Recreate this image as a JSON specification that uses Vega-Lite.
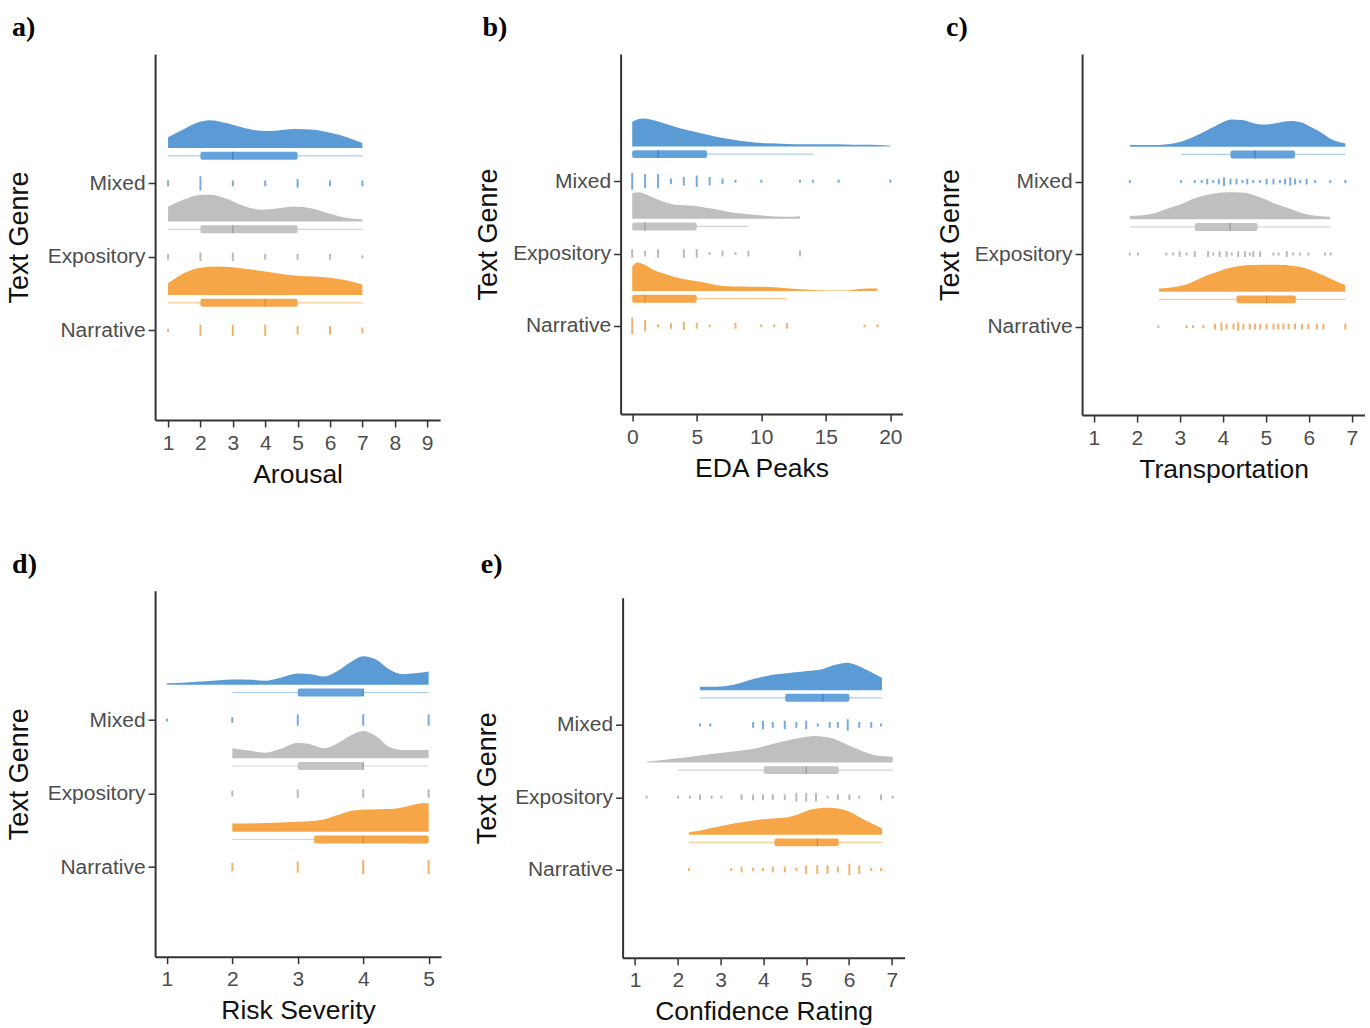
{
"$schema":"https://vega.github.io/schema/vega-lite/v6.json",
"padding":{"left":4.1,"top":14,"right":0,"bottom":0},
"datasets":{
"dens":[
{"p":"a","g":"Mixed","x":1.0,"d":0.37},{"p":"a","g":"Mixed","x":1.5,"d":0.65},{"p":"a","g":"Mixed","x":2.0,"d":0.9},{"p":"a","g":"Mixed","x":2.3,"d":0.95},{"p":"a","g":"Mixed","x":2.8,"d":0.85},{"p":"a","g":"Mixed","x":3.3,"d":0.7},{"p":"a","g":"Mixed","x":3.7,"d":0.61},{"p":"a","g":"Mixed","x":4.2,"d":0.58},{"p":"a","g":"Mixed","x":4.6,"d":0.62},{"p":"a","g":"Mixed","x":4.9,"d":0.65},{"p":"a","g":"Mixed","x":5.5,"d":0.62},{"p":"a","g":"Mixed","x":6.0,"d":0.52},{"p":"a","g":"Mixed","x":6.5,"d":0.38},{"p":"a","g":"Mixed","x":7.0,"d":0.17},
{"p":"a","g":"Expository","x":1.0,"d":0.51},{"p":"a","g":"Expository","x":1.5,"d":0.75},{"p":"a","g":"Expository","x":2.0,"d":0.9},{"p":"a","g":"Expository","x":2.3,"d":0.91},{"p":"a","g":"Expository","x":2.8,"d":0.78},{"p":"a","g":"Expository","x":3.3,"d":0.55},{"p":"a","g":"Expository","x":3.9,"d":0.4},{"p":"a","g":"Expository","x":4.4,"d":0.45},{"p":"a","g":"Expository","x":4.9,"d":0.51},{"p":"a","g":"Expository","x":5.4,"d":0.45},{"p":"a","g":"Expository","x":6.0,"d":0.27},{"p":"a","g":"Expository","x":6.5,"d":0.13},{"p":"a","g":"Expository","x":7.0,"d":0.07},
{"p":"a","g":"Narrative","x":1.0,"d":0.4},{"p":"a","g":"Narrative","x":1.5,"d":0.75},{"p":"a","g":"Narrative","x":2.0,"d":0.93},{"p":"a","g":"Narrative","x":2.5,"d":0.97},{"p":"a","g":"Narrative","x":3.0,"d":0.95},{"p":"a","g":"Narrative","x":3.5,"d":0.88},{"p":"a","g":"Narrative","x":4.0,"d":0.8},{"p":"a","g":"Narrative","x":4.5,"d":0.72},{"p":"a","g":"Narrative","x":5.0,"d":0.66},{"p":"a","g":"Narrative","x":5.5,"d":0.63},{"p":"a","g":"Narrative","x":6.0,"d":0.59},{"p":"a","g":"Narrative","x":6.5,"d":0.5},{"p":"a","g":"Narrative","x":7.0,"d":0.36},
{"p":"b","g":"Mixed","x":0,"d":0.86},{"p":"b","g":"Mixed","x":0.8,"d":0.97},{"p":"b","g":"Mixed","x":1.5,"d":0.93},{"p":"b","g":"Mixed","x":2.5,"d":0.8},{"p":"b","g":"Mixed","x":3.5,"d":0.66},{"p":"b","g":"Mixed","x":4.5,"d":0.55},{"p":"b","g":"Mixed","x":5.5,"d":0.44},{"p":"b","g":"Mixed","x":6.5,"d":0.34},{"p":"b","g":"Mixed","x":7.5,"d":0.26},{"p":"b","g":"Mixed","x":8.5,"d":0.19},{"p":"b","g":"Mixed","x":9.5,"d":0.14},{"p":"b","g":"Mixed","x":10.5,"d":0.11},{"p":"b","g":"Mixed","x":12,"d":0.09},{"p":"b","g":"Mixed","x":13.5,"d":0.08},{"p":"b","g":"Mixed","x":15,"d":0.08},{"p":"b","g":"Mixed","x":16.5,"d":0.07},{"p":"b","g":"Mixed","x":18,"d":0.06},{"p":"b","g":"Mixed","x":19,"d":0.05},{"p":"b","g":"Mixed","x":20,"d":0.03},
{"p":"b","g":"Expository","x":0,"d":0.89},{"p":"b","g":"Expository","x":0.5,"d":0.92},{"p":"b","g":"Expository","x":1,"d":0.86},{"p":"b","g":"Expository","x":1.7,"d":0.72},{"p":"b","g":"Expository","x":2.5,"d":0.58},{"p":"b","g":"Expository","x":3.3,"d":0.49},{"p":"b","g":"Expository","x":4,"d":0.47},{"p":"b","g":"Expository","x":4.8,"d":0.45},{"p":"b","g":"Expository","x":5.7,"d":0.38},{"p":"b","g":"Expository","x":6.6,"d":0.32},{"p":"b","g":"Expository","x":7.5,"d":0.24},{"p":"b","g":"Expository","x":8.5,"d":0.18},{"p":"b","g":"Expository","x":9.2,"d":0.15},{"p":"b","g":"Expository","x":10.5,"d":0.1},{"p":"b","g":"Expository","x":11.8,"d":0.07},{"p":"b","g":"Expository","x":13,"d":0.09},
{"p":"b","g":"Narrative","x":0,"d":0.84},{"p":"b","g":"Narrative","x":0.4,"d":0.99},{"p":"b","g":"Narrative","x":1,"d":0.9},{"p":"b","g":"Narrative","x":1.7,"d":0.72},{"p":"b","g":"Narrative","x":2.5,"d":0.6},{"p":"b","g":"Narrative","x":3.3,"d":0.49},{"p":"b","g":"Narrative","x":4.2,"d":0.4},{"p":"b","g":"Narrative","x":5.3,"d":0.32},{"p":"b","g":"Narrative","x":6.2,"d":0.24},{"p":"b","g":"Narrative","x":7.1,"d":0.18},{"p":"b","g":"Narrative","x":8.5,"d":0.16},{"p":"b","g":"Narrative","x":10,"d":0.15},{"p":"b","g":"Narrative","x":11,"d":0.13},{"p":"b","g":"Narrative","x":12,"d":0.1},{"p":"b","g":"Narrative","x":13,"d":0.06},{"p":"b","g":"Narrative","x":14.4,"d":0.03},{"p":"b","g":"Narrative","x":16,"d":0.02},{"p":"b","g":"Narrative","x":17,"d":0.04},{"p":"b","g":"Narrative","x":18.2,"d":0.09},{"p":"b","g":"Narrative","x":19,"d":0.09},
{"p":"c","g":"Mixed","x":1.84,"d":0.06},{"p":"c","g":"Mixed","x":2.4,"d":0.06},{"p":"c","g":"Mixed","x":2.9,"d":0.13},{"p":"c","g":"Mixed","x":3.3,"d":0.33},{"p":"c","g":"Mixed","x":3.7,"d":0.62},{"p":"c","g":"Mixed","x":4.0,"d":0.85},{"p":"c","g":"Mixed","x":4.2,"d":0.94},{"p":"c","g":"Mixed","x":4.45,"d":0.92},{"p":"c","g":"Mixed","x":4.7,"d":0.82},{"p":"c","g":"Mixed","x":4.9,"d":0.77},{"p":"c","g":"Mixed","x":5.2,"d":0.8},{"p":"c","g":"Mixed","x":5.4,"d":0.86},{"p":"c","g":"Mixed","x":5.6,"d":0.89},{"p":"c","g":"Mixed","x":5.85,"d":0.83},{"p":"c","g":"Mixed","x":6.05,"d":0.68},{"p":"c","g":"Mixed","x":6.26,"d":0.52},{"p":"c","g":"Mixed","x":6.55,"d":0.24},{"p":"c","g":"Mixed","x":6.85,"d":0.11},
{"p":"c","g":"Expository","x":1.84,"d":0.11},{"p":"c","g":"Expository","x":2.3,"d":0.17},{"p":"c","g":"Expository","x":2.77,"d":0.4},{"p":"c","g":"Expository","x":3.0,"d":0.5},{"p":"c","g":"Expository","x":3.3,"d":0.7},{"p":"c","g":"Expository","x":3.7,"d":0.86},{"p":"c","g":"Expository","x":4.1,"d":0.93},{"p":"c","g":"Expository","x":4.45,"d":0.92},{"p":"c","g":"Expository","x":4.75,"d":0.82},{"p":"c","g":"Expository","x":5.0,"d":0.68},{"p":"c","g":"Expository","x":5.25,"d":0.52},{"p":"c","g":"Expository","x":5.5,"d":0.4},{"p":"c","g":"Expository","x":5.75,"d":0.26},{"p":"c","g":"Expository","x":5.95,"d":0.17},{"p":"c","g":"Expository","x":6.2,"d":0.11},{"p":"c","g":"Expository","x":6.5,"d":0.09},
{"p":"c","g":"Narrative","x":2.52,"d":0.11},{"p":"c","g":"Narrative","x":3.0,"d":0.2},{"p":"c","g":"Narrative","x":3.2,"d":0.28},{"p":"c","g":"Narrative","x":3.47,"d":0.46},{"p":"c","g":"Narrative","x":3.7,"d":0.6},{"p":"c","g":"Narrative","x":3.93,"d":0.72},{"p":"c","g":"Narrative","x":4.15,"d":0.82},{"p":"c","g":"Narrative","x":4.4,"d":0.89},{"p":"c","g":"Narrative","x":4.7,"d":0.92},{"p":"c","g":"Narrative","x":5.0,"d":0.93},{"p":"c","g":"Narrative","x":5.3,"d":0.93},{"p":"c","g":"Narrative","x":5.64,"d":0.89},{"p":"c","g":"Narrative","x":5.85,"d":0.84},{"p":"c","g":"Narrative","x":6.03,"d":0.76},{"p":"c","g":"Narrative","x":6.25,"d":0.62},{"p":"c","g":"Narrative","x":6.5,"d":0.46},{"p":"c","g":"Narrative","x":6.7,"d":0.32},{"p":"c","g":"Narrative","x":6.85,"d":0.23},
{"p":"d","g":"Mixed","x":1.0,"d":0.05},{"p":"d","g":"Mixed","x":1.3,"d":0.08},{"p":"d","g":"Mixed","x":1.6,"d":0.12},{"p":"d","g":"Mixed","x":2.0,"d":0.18},{"p":"d","g":"Mixed","x":2.3,"d":0.17},{"p":"d","g":"Mixed","x":2.5,"d":0.14},{"p":"d","g":"Mixed","x":2.75,"d":0.25},{"p":"d","g":"Mixed","x":3.0,"d":0.38},{"p":"d","g":"Mixed","x":3.2,"d":0.36},{"p":"d","g":"Mixed","x":3.4,"d":0.28},{"p":"d","g":"Mixed","x":3.6,"d":0.46},{"p":"d","g":"Mixed","x":3.8,"d":0.76},{"p":"d","g":"Mixed","x":4.0,"d":0.97},{"p":"d","g":"Mixed","x":4.2,"d":0.85},{"p":"d","g":"Mixed","x":4.4,"d":0.52},{"p":"d","g":"Mixed","x":4.6,"d":0.36},{"p":"d","g":"Mixed","x":4.8,"d":0.39},{"p":"d","g":"Mixed","x":5.0,"d":0.45},
{"p":"d","g":"Expository","x":2.0,"d":0.34},{"p":"d","g":"Expository","x":2.25,"d":0.26},{"p":"d","g":"Expository","x":2.5,"d":0.19},{"p":"d","g":"Expository","x":2.75,"d":0.33},{"p":"d","g":"Expository","x":3.0,"d":0.53},{"p":"d","g":"Expository","x":3.2,"d":0.47},{"p":"d","g":"Expository","x":3.4,"d":0.34},{"p":"d","g":"Expository","x":3.6,"d":0.5},{"p":"d","g":"Expository","x":3.8,"d":0.77},{"p":"d","g":"Expository","x":4.0,"d":0.93},{"p":"d","g":"Expository","x":4.2,"d":0.75},{"p":"d","g":"Expository","x":4.4,"d":0.38},{"p":"d","g":"Expository","x":4.6,"d":0.28},{"p":"d","g":"Expository","x":4.8,"d":0.28},{"p":"d","g":"Expository","x":5.0,"d":0.28},
{"p":"d","g":"Narrative","x":2.0,"d":0.28},{"p":"d","g":"Narrative","x":2.5,"d":0.3},{"p":"d","g":"Narrative","x":3.0,"d":0.34},{"p":"d","g":"Narrative","x":3.4,"d":0.42},{"p":"d","g":"Narrative","x":3.6,"d":0.56},{"p":"d","g":"Narrative","x":3.85,"d":0.72},{"p":"d","g":"Narrative","x":4.1,"d":0.76},{"p":"d","g":"Narrative","x":4.4,"d":0.77},{"p":"d","g":"Narrative","x":4.7,"d":0.88},{"p":"d","g":"Narrative","x":4.87,"d":0.96},{"p":"d","g":"Narrative","x":5.0,"d":0.97},
{"p":"e","g":"Mixed","x":2.52,"d":0.12},{"p":"e","g":"Mixed","x":2.9,"d":0.12},{"p":"e","g":"Mixed","x":3.25,"d":0.17},{"p":"e","g":"Mixed","x":3.5,"d":0.27},{"p":"e","g":"Mixed","x":3.72,"d":0.37},{"p":"e","g":"Mixed","x":4.0,"d":0.47},{"p":"e","g":"Mixed","x":4.26,"d":0.54},{"p":"e","g":"Mixed","x":4.6,"d":0.6},{"p":"e","g":"Mixed","x":4.88,"d":0.64},{"p":"e","g":"Mixed","x":5.1,"d":0.67},{"p":"e","g":"Mixed","x":5.35,"d":0.72},{"p":"e","g":"Mixed","x":5.66,"d":0.87},{"p":"e","g":"Mixed","x":5.97,"d":0.95},{"p":"e","g":"Mixed","x":6.15,"d":0.88},{"p":"e","g":"Mixed","x":6.3,"d":0.79},{"p":"e","g":"Mixed","x":6.56,"d":0.6},{"p":"e","g":"Mixed","x":6.77,"d":0.43},
{"p":"e","g":"Expository","x":1.27,"d":0.03},{"p":"e","g":"Expository","x":1.7,"d":0.1},{"p":"e","g":"Expository","x":2.17,"d":0.17},{"p":"e","g":"Expository","x":2.55,"d":0.25},{"p":"e","g":"Expository","x":2.94,"d":0.32},{"p":"e","g":"Expository","x":3.35,"d":0.39},{"p":"e","g":"Expository","x":3.72,"d":0.46},{"p":"e","g":"Expository","x":4.0,"d":0.55},{"p":"e","g":"Expository","x":4.26,"d":0.66},{"p":"e","g":"Expository","x":4.55,"d":0.76},{"p":"e","g":"Expository","x":4.81,"d":0.84},{"p":"e","g":"Expository","x":5.0,"d":0.89},{"p":"e","g":"Expository","x":5.2,"d":0.92},{"p":"e","g":"Expository","x":5.45,"d":0.88},{"p":"e","g":"Expository","x":5.66,"d":0.81},{"p":"e","g":"Expository","x":5.9,"d":0.66},{"p":"e","g":"Expository","x":6.21,"d":0.46},{"p":"e","g":"Expository","x":6.45,"d":0.32},{"p":"e","g":"Expository","x":6.67,"d":0.23},{"p":"e","g":"Expository","x":7.02,"d":0.2},
{"p":"e","g":"Narrative","x":2.26,"d":0.09},{"p":"e","g":"Narrative","x":2.5,"d":0.14},{"p":"e","g":"Narrative","x":2.71,"d":0.21},{"p":"e","g":"Narrative","x":3.0,"d":0.3},{"p":"e","g":"Narrative","x":3.33,"d":0.4},{"p":"e","g":"Narrative","x":3.65,"d":0.47},{"p":"e","g":"Narrative","x":3.95,"d":0.53},{"p":"e","g":"Narrative","x":4.3,"d":0.57},{"p":"e","g":"Narrative","x":4.57,"d":0.61},{"p":"e","g":"Narrative","x":4.8,"d":0.7},{"p":"e","g":"Narrative","x":5.04,"d":0.84},{"p":"e","g":"Narrative","x":5.25,"d":0.91},{"p":"e","g":"Narrative","x":5.43,"d":0.94},{"p":"e","g":"Narrative","x":5.65,"d":0.93},{"p":"e","g":"Narrative","x":5.9,"d":0.86},{"p":"e","g":"Narrative","x":6.1,"d":0.74},{"p":"e","g":"Narrative","x":6.28,"d":0.58},{"p":"e","g":"Narrative","x":6.5,"d":0.42},{"p":"e","g":"Narrative","x":6.77,"d":0.23}
],
"box":[
{"p":"a","g":"Mixed","lo":1,"q1":2,"med":3,"q3":5,"hi":7},{"p":"a","g":"Expository","lo":1,"q1":2,"med":3,"q3":5,"hi":7},{"p":"a","g":"Narrative","lo":1,"q1":2,"med":4,"q3":5,"hi":7},
{"p":"b","g":"Mixed","lo":0,"q1":0,"med":2,"q3":5.8,"hi":14},{"p":"b","g":"Expository","lo":0,"q1":0,"med":1,"q3":5,"hi":9},{"p":"b","g":"Narrative","lo":0,"q1":0,"med":1,"q3":5,"hi":12},
{"p":"c","g":"Mixed","lo":3.04,"q1":4.18,"med":4.75,"q3":5.68,"hi":6.85},{"p":"c","g":"Expository","lo":1.84,"q1":3.35,"med":4.17,"q3":4.81,"hi":6.5},{"p":"c","g":"Narrative","lo":2.52,"q1":4.32,"med":5.02,"q3":5.7,"hi":6.85},
{"p":"d","g":"Mixed","lo":2,"q1":3,"med":4,"q3":4,"hi":5},{"p":"d","g":"Expository","lo":2,"q1":3,"med":4,"q3":4,"hi":5},{"p":"d","g":"Narrative","lo":2,"q1":3.25,"med":4,"q3":5,"hi":5},
{"p":"e","g":"Mixed","lo":2.52,"q1":4.51,"med":5.39,"q3":6.01,"hi":6.77},{"p":"e","g":"Expository","lo":2.01,"q1":4.01,"med":5.0,"q3":5.76,"hi":7.02},{"p":"e","g":"Narrative","lo":2.26,"q1":4.26,"med":5.26,"q3":5.76,"hi":6.77}
],
"rain":[
{"p":"a","g":"Mixed","x":1,"n":2},{"p":"a","g":"Mixed","x":2,"n":5},{"p":"a","g":"Mixed","x":3,"n":2},{"p":"a","g":"Mixed","x":4,"n":2},{"p":"a","g":"Mixed","x":5,"n":3},{"p":"a","g":"Mixed","x":6,"n":2},{"p":"a","g":"Mixed","x":7,"n":2},
{"p":"a","g":"Expository","x":1,"n":2},{"p":"a","g":"Expository","x":2,"n":3},{"p":"a","g":"Expository","x":3,"n":3},{"p":"a","g":"Expository","x":4,"n":2},{"p":"a","g":"Expository","x":5,"n":2},{"p":"a","g":"Expository","x":6,"n":2},{"p":"a","g":"Expository","x":7,"n":1},
{"p":"a","g":"Narrative","x":1,"n":1},{"p":"a","g":"Narrative","x":2,"n":4},{"p":"a","g":"Narrative","x":3,"n":4},{"p":"a","g":"Narrative","x":4,"n":4},{"p":"a","g":"Narrative","x":5,"n":3},{"p":"a","g":"Narrative","x":6,"n":3},{"p":"a","g":"Narrative","x":7,"n":2},
{"p":"b","g":"Mixed","x":0,"n":6},{"p":"b","g":"Mixed","x":1,"n":5},{"p":"b","g":"Mixed","x":2,"n":5},{"p":"b","g":"Mixed","x":3,"n":2},{"p":"b","g":"Mixed","x":4,"n":3},{"p":"b","g":"Mixed","x":5,"n":4},{"p":"b","g":"Mixed","x":6,"n":3},{"p":"b","g":"Mixed","x":7,"n":2},{"p":"b","g":"Mixed","x":8,"n":1},{"p":"b","g":"Mixed","x":10,"n":1},{"p":"b","g":"Mixed","x":13,"n":1},{"p":"b","g":"Mixed","x":14,"n":1},{"p":"b","g":"Mixed","x":16,"n":1},{"p":"b","g":"Mixed","x":20,"n":1},
{"p":"b","g":"Expository","x":0,"n":3},{"p":"b","g":"Expository","x":1,"n":2},{"p":"b","g":"Expository","x":2,"n":3},{"p":"b","g":"Expository","x":4,"n":3},{"p":"b","g":"Expository","x":5,"n":3},{"p":"b","g":"Expository","x":6,"n":1},{"p":"b","g":"Expository","x":7,"n":2},{"p":"b","g":"Expository","x":8,"n":1},{"p":"b","g":"Expository","x":9,"n":2},{"p":"b","g":"Expository","x":13,"n":2},
{"p":"b","g":"Narrative","x":0,"n":6},{"p":"b","g":"Narrative","x":1,"n":4},{"p":"b","g":"Narrative","x":2,"n":1},{"p":"b","g":"Narrative","x":3,"n":2},{"p":"b","g":"Narrative","x":4,"n":3},{"p":"b","g":"Narrative","x":5,"n":2},{"p":"b","g":"Narrative","x":6,"n":1},{"p":"b","g":"Narrative","x":8,"n":2},{"p":"b","g":"Narrative","x":10,"n":1},{"p":"b","g":"Narrative","x":11,"n":1},{"p":"b","g":"Narrative","x":12,"n":2},{"p":"b","g":"Narrative","x":18,"n":1},{"p":"b","g":"Narrative","x":19,"n":1},
{"p":"c","g":"Mixed","x":1.84,"n":1},{"p":"c","g":"Mixed","x":3.03,"n":1},{"p":"c","g":"Mixed","x":3.35,"n":1},{"p":"c","g":"Mixed","x":3.51,"n":1},{"p":"c","g":"Mixed","x":3.64,"n":2},{"p":"c","g":"Mixed","x":3.78,"n":1},{"p":"c","g":"Mixed","x":3.91,"n":2},{"p":"c","g":"Mixed","x":4.03,"n":3},{"p":"c","g":"Mixed","x":4.18,"n":2},{"p":"c","g":"Mixed","x":4.32,"n":2},{"p":"c","g":"Mixed","x":4.46,"n":1},{"p":"c","g":"Mixed","x":4.57,"n":2},{"p":"c","g":"Mixed","x":4.71,"n":1},{"p":"c","g":"Mixed","x":4.87,"n":1},{"p":"c","g":"Mixed","x":5.02,"n":2},{"p":"c","g":"Mixed","x":5.18,"n":2},{"p":"c","g":"Mixed","x":5.33,"n":1},{"p":"c","g":"Mixed","x":5.45,"n":2},{"p":"c","g":"Mixed","x":5.57,"n":3},{"p":"c","g":"Mixed","x":5.68,"n":2},{"p":"c","g":"Mixed","x":5.8,"n":1},{"p":"c","g":"Mixed","x":5.95,"n":2},{"p":"c","g":"Mixed","x":6.15,"n":1},{"p":"c","g":"Mixed","x":6.5,"n":1},{"p":"c","g":"Mixed","x":6.85,"n":1},
{"p":"c","g":"Expository","x":1.84,"n":1},{"p":"c","g":"Expository","x":2.03,"n":1},{"p":"c","g":"Expository","x":2.69,"n":1},{"p":"c","g":"Expository","x":2.85,"n":1},{"p":"c","g":"Expository","x":3.0,"n":2},{"p":"c","g":"Expository","x":3.16,"n":1},{"p":"c","g":"Expository","x":3.35,"n":2},{"p":"c","g":"Expository","x":3.66,"n":2},{"p":"c","g":"Expository","x":3.78,"n":1},{"p":"c","g":"Expository","x":3.93,"n":2},{"p":"c","g":"Expository","x":4.09,"n":2},{"p":"c","g":"Expository","x":4.21,"n":1},{"p":"c","g":"Expository","x":4.36,"n":2},{"p":"c","g":"Expository","x":4.52,"n":2},{"p":"c","g":"Expository","x":4.63,"n":1},{"p":"c","g":"Expository","x":4.71,"n":2},{"p":"c","g":"Expository","x":4.87,"n":2},{"p":"c","g":"Expository","x":5.18,"n":1},{"p":"c","g":"Expository","x":5.3,"n":1},{"p":"c","g":"Expository","x":5.49,"n":2},{"p":"c","g":"Expository","x":5.64,"n":1},{"p":"c","g":"Expository","x":5.8,"n":1},{"p":"c","g":"Expository","x":5.99,"n":1},{"p":"c","g":"Expository","x":6.38,"n":1},{"p":"c","g":"Expository","x":6.51,"n":1},
{"p":"c","g":"Narrative","x":2.5,"n":1},{"p":"c","g":"Narrative","x":3.16,"n":1},{"p":"c","g":"Narrative","x":3.31,"n":1},{"p":"c","g":"Narrative","x":3.55,"n":1},{"p":"c","g":"Narrative","x":3.82,"n":2},{"p":"c","g":"Narrative","x":3.97,"n":3},{"p":"c","g":"Narrative","x":4.09,"n":2},{"p":"c","g":"Narrative","x":4.25,"n":2},{"p":"c","g":"Narrative","x":4.36,"n":3},{"p":"c","g":"Narrative","x":4.48,"n":2},{"p":"c","g":"Narrative","x":4.63,"n":2},{"p":"c","g":"Narrative","x":4.75,"n":2},{"p":"c","g":"Narrative","x":4.87,"n":2},{"p":"c","g":"Narrative","x":5.02,"n":2},{"p":"c","g":"Narrative","x":5.18,"n":2},{"p":"c","g":"Narrative","x":5.29,"n":2},{"p":"c","g":"Narrative","x":5.41,"n":2},{"p":"c","g":"Narrative","x":5.53,"n":2},{"p":"c","g":"Narrative","x":5.68,"n":2},{"p":"c","g":"Narrative","x":5.84,"n":2},{"p":"c","g":"Narrative","x":5.99,"n":2},{"p":"c","g":"Narrative","x":6.19,"n":2},{"p":"c","g":"Narrative","x":6.34,"n":2},{"p":"c","g":"Narrative","x":6.85,"n":2},
{"p":"d","g":"Mixed","x":1,"n":1},{"p":"d","g":"Mixed","x":2,"n":2},{"p":"d","g":"Mixed","x":3,"n":4},{"p":"d","g":"Mixed","x":4,"n":4},{"p":"d","g":"Mixed","x":5,"n":4},
{"p":"d","g":"Expository","x":2,"n":2},{"p":"d","g":"Expository","x":3,"n":3},{"p":"d","g":"Expository","x":4,"n":3},{"p":"d","g":"Expository","x":5,"n":3},
{"p":"d","g":"Narrative","x":2,"n":3},{"p":"d","g":"Narrative","x":3,"n":4},{"p":"d","g":"Narrative","x":4,"n":5},{"p":"d","g":"Narrative","x":5,"n":5},
{"p":"e","g":"Mixed","x":2.52,"n":1},{"p":"e","g":"Mixed","x":2.76,"n":1},{"p":"e","g":"Mixed","x":3.76,"n":2},{"p":"e","g":"Mixed","x":3.99,"n":3},{"p":"e","g":"Mixed","x":4.22,"n":2},{"p":"e","g":"Mixed","x":4.5,"n":3},{"p":"e","g":"Mixed","x":4.77,"n":2},{"p":"e","g":"Mixed","x":5.0,"n":3},{"p":"e","g":"Mixed","x":5.27,"n":1},{"p":"e","g":"Mixed","x":5.55,"n":2},{"p":"e","g":"Mixed","x":5.74,"n":2},{"p":"e","g":"Mixed","x":5.97,"n":4},{"p":"e","g":"Mixed","x":6.24,"n":2},{"p":"e","g":"Mixed","x":6.52,"n":2},{"p":"e","g":"Mixed","x":6.75,"n":1},
{"p":"e","g":"Expository","x":1.27,"n":1},{"p":"e","g":"Expository","x":2.01,"n":1},{"p":"e","g":"Expository","x":2.28,"n":1},{"p":"e","g":"Expository","x":2.52,"n":2},{"p":"e","g":"Expository","x":2.79,"n":1},{"p":"e","g":"Expository","x":3.02,"n":1},{"p":"e","g":"Expository","x":3.49,"n":2},{"p":"e","g":"Expository","x":3.76,"n":2},{"p":"e","g":"Expository","x":3.99,"n":2},{"p":"e","g":"Expository","x":4.22,"n":2},{"p":"e","g":"Expository","x":4.5,"n":2},{"p":"e","g":"Expository","x":4.77,"n":3},{"p":"e","g":"Expository","x":5.0,"n":3},{"p":"e","g":"Expository","x":5.23,"n":3},{"p":"e","g":"Expository","x":5.5,"n":1},{"p":"e","g":"Expository","x":5.74,"n":2},{"p":"e","g":"Expository","x":6.01,"n":2},{"p":"e","g":"Expository","x":6.24,"n":1},{"p":"e","g":"Expository","x":6.75,"n":2},{"p":"e","g":"Expository","x":7.02,"n":1},
{"p":"e","g":"Narrative","x":2.26,"n":1},{"p":"e","g":"Narrative","x":3.25,"n":1},{"p":"e","g":"Narrative","x":3.49,"n":2},{"p":"e","g":"Narrative","x":3.76,"n":1},{"p":"e","g":"Narrative","x":3.99,"n":1},{"p":"e","g":"Narrative","x":4.22,"n":2},{"p":"e","g":"Narrative","x":4.5,"n":2},{"p":"e","g":"Narrative","x":4.77,"n":1},{"p":"e","g":"Narrative","x":5.0,"n":3},{"p":"e","g":"Narrative","x":5.26,"n":3},{"p":"e","g":"Narrative","x":5.5,"n":3},{"p":"e","g":"Narrative","x":5.74,"n":2},{"p":"e","g":"Narrative","x":6.01,"n":4},{"p":"e","g":"Narrative","x":6.24,"n":3},{"p":"e","g":"Narrative","x":6.52,"n":1},{"p":"e","g":"Narrative","x":6.75,"n":1}
]
},
"columns":3,
"align":"none",
"spacing":{"row":62.7,"column":32.5},
"concat":[
{"width":285,"height":366,"title":{"text":"a)","dx":7},"resolve":{"scale":{"color":"independent"}},
"layer":[
{"data":{"name":"dens"},"transform":[{"filter":"datum.p==='a'"},{"calculate":"indexof(['Narrative','Expository','Mixed'],datum.g)+1","as":"gi"},{"calculate":"datum.gi+0.48+0.4*datum.d","as":"yt"},{"calculate":"datum.gi+0.48","as":"yb"}],
"mark":{"type":"area","interpolate":"monotone"},
"encoding":{"x":{"field":"x","type":"quantitative","scale":{"domain":[0.6,9.4],"nice":false,"zero":false},"axis":{"title":"Arousal","values":[1,2,3,4,5,6,7,8,9],"format":"d","labelOverlap":false,"labelFlush":false,"labelBound":false}},
"y":{"field":"yt","type":"quantitative","scale":{"domain":[-0.22,4.76],"nice":false,"zero":false},"axis":{"title":"Text Genre","titlePadding":14,"values":[1,2,3],"labelOverlap":false,"labelExpr":"datum.value===3?'Mixed':datum.value===2?'Expository':'Narrative'"}},
"y2":{"field":"yb"},"color":{"field":"g","type":"nominal","scale":{"domain":["Mixed","Expository","Narrative"],"range":["#5b9bd5","#bfbfbf","#f6a646"]},"legend":null}}},
{"data":{"name":"box"},"transform":[{"filter":"datum.p==='a'"},{"calculate":"indexof(['Narrative','Expository','Mixed'],datum.g)+1+0.375","as":"wy"}],
"mark":{"type":"rule","strokeWidth":1.2},
"encoding":{"x":{"field":"lo","type":"quantitative","axis":{"title":"Arousal","values":[1,2,3,4,5,6,7,8,9],"format":"d","labelOverlap":false,"labelFlush":false,"labelBound":false}},"x2":{"field":"hi"},"y":{"field":"wy","type":"quantitative"},"color":{"field":"g","type":"nominal","scale":{"domain":["Mixed","Expository","Narrative"],"range":["#a9cdf0","#d4d4d4","#f9cc94"]},"legend":null}}},
{"data":{"name":"box"},"transform":[{"filter":"datum.p==='a'"},{"calculate":"indexof(['Narrative','Expository','Mixed'],datum.g)+1+0.32","as":"b1"},{"calculate":"datum.b1+0.11","as":"b2"}],
"mark":{"type":"rect","cornerRadius":2},
"encoding":{"x":{"field":"q1","type":"quantitative","axis":{"title":"Arousal","values":[1,2,3,4,5,6,7,8,9],"format":"d","labelOverlap":false,"labelFlush":false,"labelBound":false}},"x2":{"field":"q3"},"y":{"field":"b1","type":"quantitative"},"y2":{"field":"b2"},"color":{"field":"g","type":"nominal","scale":{"domain":["Mixed","Expository","Narrative"],"range":["#64a2dc","#c4c4c4","#f6a74b"]},"legend":null}}},
{"data":{"name":"box"},"transform":[{"filter":"datum.p==='a'"},{"calculate":"indexof(['Narrative','Expository','Mixed'],datum.g)+1+0.32","as":"b1"},{"calculate":"datum.b1+0.11","as":"b2"}],
"mark":{"type":"rule","strokeWidth":1.2},
"encoding":{"x":{"field":"med","type":"quantitative","axis":{"title":"Arousal","values":[1,2,3,4,5,6,7,8,9],"format":"d","labelOverlap":false,"labelFlush":false,"labelBound":false}},"y":{"field":"b1","type":"quantitative"},"y2":{"field":"b2"},"color":{"field":"g","type":"nominal","scale":{"domain":["Mixed","Expository","Narrative"],"range":["#3f7fbf","#9a9a9a","#d98a30"]},"legend":null}}},
{"data":{"name":"rain"},"transform":[{"filter":"datum.p==='a'"},{"calculate":"indexof(['Narrative','Expository','Mixed'],datum.g)+1","as":"gi"}],
"mark":{"type":"tick","orient":"vertical","thickness":2,"opacity":0.75},
"encoding":{"x":{"field":"x","type":"quantitative","axis":{"title":"Arousal","values":[1,2,3,4,5,6,7,8,9],"format":"d","labelOverlap":false,"labelFlush":false,"labelBound":false}},"y":{"field":"gi","type":"quantitative"},"size":{"field":"n","type":"quantitative","scale":{"domain":[1,6],"range":[3,17]},"legend":null},"color":{"field":"g","type":"nominal","scale":{"domain":["Mixed","Expository","Narrative"],"range":["#4a8fd4","#a3a3a3","#eb9a3c"]},"legend":null}}}
]},
{"width":282,"height":360,"title":{"text":"b)","dx":8},"resolve":{"scale":{"color":"independent"}},
"layer":[
{"data":{"name":"dens"},"transform":[{"filter":"datum.p==='b'"},{"calculate":"indexof(['Narrative','Expository','Mixed'],datum.g)+1","as":"gi"},{"calculate":"datum.gi+0.48+0.4*datum.d","as":"yt"},{"calculate":"datum.gi+0.48","as":"yb"}],
"mark":{"type":"area","interpolate":"monotone"},
"encoding":{"x":{"field":"x","type":"quantitative","scale":{"domain":[-0.9,20.95],"nice":false,"zero":false},"axis":{"title":"EDA Peaks","values":[0,5,10,15,20],"format":"d","labelOverlap":false}},
"y":{"field":"yt","type":"quantitative","scale":{"domain":[-0.22,4.76],"nice":false,"zero":false},"axis":{"title":"Text Genre","values":[1,2,3],"labelOverlap":false,"labelExpr":"datum.value===3?'Mixed':datum.value===2?'Expository':'Narrative'"}},
"y2":{"field":"yb"},"color":{"field":"g","type":"nominal","scale":{"domain":["Mixed","Expository","Narrative"],"range":["#5b9bd5","#bfbfbf","#f6a646"]},"legend":null}}},
{"data":{"name":"box"},"transform":[{"filter":"datum.p==='b'"},{"calculate":"indexof(['Narrative','Expository','Mixed'],datum.g)+1+0.375","as":"wy"}],
"mark":{"type":"rule","strokeWidth":1.2},
"encoding":{"x":{"field":"lo","type":"quantitative"},"x2":{"field":"hi"},"y":{"field":"wy","type":"quantitative"},"color":{"field":"g","type":"nominal","scale":{"domain":["Mixed","Expository","Narrative"],"range":["#a9cdf0","#d4d4d4","#f9cc94"]},"legend":null}}},
{"data":{"name":"box"},"transform":[{"filter":"datum.p==='b'"},{"calculate":"indexof(['Narrative','Expository','Mixed'],datum.g)+1+0.32","as":"b1"},{"calculate":"datum.b1+0.11","as":"b2"}],
"mark":{"type":"rect","cornerRadius":2},
"encoding":{"x":{"field":"q1","type":"quantitative"},"x2":{"field":"q3"},"y":{"field":"b1","type":"quantitative"},"y2":{"field":"b2"},"color":{"field":"g","type":"nominal","scale":{"domain":["Mixed","Expository","Narrative"],"range":["#64a2dc","#c4c4c4","#f6a74b"]},"legend":null}}},
{"data":{"name":"box"},"transform":[{"filter":"datum.p==='b'"},{"calculate":"indexof(['Narrative','Expository','Mixed'],datum.g)+1+0.32","as":"b1"},{"calculate":"datum.b1+0.11","as":"b2"}],
"mark":{"type":"rule","strokeWidth":1.2},
"encoding":{"x":{"field":"med","type":"quantitative"},"y":{"field":"b1","type":"quantitative"},"y2":{"field":"b2"},"color":{"field":"g","type":"nominal","scale":{"domain":["Mixed","Expository","Narrative"],"range":["#3f7fbf","#9a9a9a","#d98a30"]},"legend":null}}},
{"data":{"name":"rain"},"transform":[{"filter":"datum.p==='b'"},{"calculate":"indexof(['Narrative','Expository','Mixed'],datum.g)+1","as":"gi"}],
"mark":{"type":"tick","orient":"vertical","thickness":2,"opacity":0.75},
"encoding":{"x":{"field":"x","type":"quantitative"},"y":{"field":"gi","type":"quantitative"},"size":{"field":"n","type":"quantitative","scale":{"domain":[1,6],"range":[3,17]},"legend":null},"color":{"field":"g","type":"nominal","scale":{"domain":["Mixed","Expository","Narrative"],"range":["#4a8fd4","#a3a3a3","#eb9a3c"]},"legend":null}}}
]},
{"width":283,"height":361,"title":{"text":"c)","dx":10},"resolve":{"scale":{"color":"independent"}},
"layer":[
{"data":{"name":"dens"},"transform":[{"filter":"datum.p==='c'"},{"calculate":"indexof(['Narrative','Expository','Mixed'],datum.g)+1","as":"gi"},{"calculate":"datum.gi+0.48+0.4*datum.d","as":"yt"},{"calculate":"datum.gi+0.48","as":"yb"}],
"mark":{"type":"area","interpolate":"monotone"},
"encoding":{"x":{"field":"x","type":"quantitative","scale":{"domain":[0.73,7.31],"nice":false,"zero":false},"axis":{"title":"Transportation","values":[1,2,3,4,5,6,7],"format":"d","labelOverlap":false}},
"y":{"field":"yt","type":"quantitative","scale":{"domain":[-0.22,4.76],"nice":false,"zero":false},"axis":{"title":"Text Genre","values":[1,2,3],"labelOverlap":false,"labelExpr":"datum.value===3?'Mixed':datum.value===2?'Expository':'Narrative'"}},
"y2":{"field":"yb"},"color":{"field":"g","type":"nominal","scale":{"domain":["Mixed","Expository","Narrative"],"range":["#5b9bd5","#bfbfbf","#f6a646"]},"legend":null}}},
{"data":{"name":"box"},"transform":[{"filter":"datum.p==='c'"},{"calculate":"indexof(['Narrative','Expository','Mixed'],datum.g)+1+0.375","as":"wy"}],
"mark":{"type":"rule","strokeWidth":1.2},
"encoding":{"x":{"field":"lo","type":"quantitative"},"x2":{"field":"hi"},"y":{"field":"wy","type":"quantitative"},"color":{"field":"g","type":"nominal","scale":{"domain":["Mixed","Expository","Narrative"],"range":["#a9cdf0","#d4d4d4","#f9cc94"]},"legend":null}}},
{"data":{"name":"box"},"transform":[{"filter":"datum.p==='c'"},{"calculate":"indexof(['Narrative','Expository','Mixed'],datum.g)+1+0.32","as":"b1"},{"calculate":"datum.b1+0.11","as":"b2"}],
"mark":{"type":"rect","cornerRadius":2},
"encoding":{"x":{"field":"q1","type":"quantitative"},"x2":{"field":"q3"},"y":{"field":"b1","type":"quantitative"},"y2":{"field":"b2"},"color":{"field":"g","type":"nominal","scale":{"domain":["Mixed","Expository","Narrative"],"range":["#64a2dc","#c4c4c4","#f6a74b"]},"legend":null}}},
{"data":{"name":"box"},"transform":[{"filter":"datum.p==='c'"},{"calculate":"indexof(['Narrative','Expository','Mixed'],datum.g)+1+0.32","as":"b1"},{"calculate":"datum.b1+0.11","as":"b2"}],
"mark":{"type":"rule","strokeWidth":1.2},
"encoding":{"x":{"field":"med","type":"quantitative"},"y":{"field":"b1","type":"quantitative"},"y2":{"field":"b2"},"color":{"field":"g","type":"nominal","scale":{"domain":["Mixed","Expository","Narrative"],"range":["#3f7fbf","#9a9a9a","#d98a30"]},"legend":null}}},
{"data":{"name":"rain"},"transform":[{"filter":"datum.p==='c'"},{"calculate":"indexof(['Narrative','Expository','Mixed'],datum.g)+1","as":"gi"}],
"mark":{"type":"tick","orient":"vertical","thickness":2,"opacity":0.75},
"encoding":{"x":{"field":"x","type":"quantitative"},"y":{"field":"gi","type":"quantitative"},"size":{"field":"n","type":"quantitative","scale":{"domain":[1,6],"range":[3,17]},"legend":null},"color":{"field":"g","type":"nominal","scale":{"domain":["Mixed","Expository","Narrative"],"range":["#4a8fd4","#a3a3a3","#eb9a3c"]},"legend":null}}}
]},
{"width":286,"height":366,"title":{"text":"d)","dx":7},"resolve":{"scale":{"color":"independent"}},
"layer":[
{"data":{"name":"dens"},"transform":[{"filter":"datum.p==='d'"},{"calculate":"indexof(['Narrative','Expository','Mixed'],datum.g)+1","as":"gi"},{"calculate":"datum.gi+0.48+0.4*datum.d","as":"yt"},{"calculate":"datum.gi+0.48","as":"yb"}],
"mark":{"type":"area","interpolate":"monotone"},
"encoding":{"x":{"field":"x","type":"quantitative","scale":{"domain":[0.82,5.19],"nice":false,"zero":false},"axis":{"title":"Risk Severity","values":[1,2,3,4,5],"format":"d","labelOverlap":false}},
"y":{"field":"yt","type":"quantitative","scale":{"domain":[-0.22,4.76],"nice":false,"zero":false},"axis":{"title":"Text Genre","titlePadding":14,"values":[1,2,3],"labelOverlap":false,"labelExpr":"datum.value===3?'Mixed':datum.value===2?'Expository':'Narrative'"}},
"y2":{"field":"yb"},"color":{"field":"g","type":"nominal","scale":{"domain":["Mixed","Expository","Narrative"],"range":["#5b9bd5","#bfbfbf","#f6a646"]},"legend":null}}},
{"data":{"name":"box"},"transform":[{"filter":"datum.p==='d'"},{"calculate":"indexof(['Narrative','Expository','Mixed'],datum.g)+1+0.375","as":"wy"}],
"mark":{"type":"rule","strokeWidth":1.2},
"encoding":{"x":{"field":"lo","type":"quantitative"},"x2":{"field":"hi"},"y":{"field":"wy","type":"quantitative"},"color":{"field":"g","type":"nominal","scale":{"domain":["Mixed","Expository","Narrative"],"range":["#a9cdf0","#d4d4d4","#f9cc94"]},"legend":null}}},
{"data":{"name":"box"},"transform":[{"filter":"datum.p==='d'"},{"calculate":"indexof(['Narrative','Expository','Mixed'],datum.g)+1+0.32","as":"b1"},{"calculate":"datum.b1+0.11","as":"b2"}],
"mark":{"type":"rect","cornerRadius":2},
"encoding":{"x":{"field":"q1","type":"quantitative"},"x2":{"field":"q3"},"y":{"field":"b1","type":"quantitative"},"y2":{"field":"b2"},"color":{"field":"g","type":"nominal","scale":{"domain":["Mixed","Expository","Narrative"],"range":["#64a2dc","#c4c4c4","#f6a74b"]},"legend":null}}},
{"data":{"name":"box"},"transform":[{"filter":"datum.p==='d'"},{"calculate":"indexof(['Narrative','Expository','Mixed'],datum.g)+1+0.32","as":"b1"},{"calculate":"datum.b1+0.11","as":"b2"}],
"mark":{"type":"rule","strokeWidth":1.2},
"encoding":{"x":{"field":"med","type":"quantitative"},"y":{"field":"b1","type":"quantitative"},"y2":{"field":"b2"},"color":{"field":"g","type":"nominal","scale":{"domain":["Mixed","Expository","Narrative"],"range":["#3f7fbf","#9a9a9a","#d98a30"]},"legend":null}}},
{"data":{"name":"rain"},"transform":[{"filter":"datum.p==='d'"},{"calculate":"indexof(['Narrative','Expository','Mixed'],datum.g)+1","as":"gi"}],
"mark":{"type":"tick","orient":"vertical","thickness":2,"opacity":0.75},
"encoding":{"x":{"field":"x","type":"quantitative"},"y":{"field":"gi","type":"quantitative"},"size":{"field":"n","type":"quantitative","scale":{"domain":[1,6],"range":[3,17]},"legend":null},"color":{"field":"g","type":"nominal","scale":{"domain":["Mixed","Expository","Narrative"],"range":["#4a8fd4","#a3a3a3","#eb9a3c"]},"legend":null}}}
]},
{"width":282,"height":360,"title":{"text":"e)","dx":7,"offset":18.6},"resolve":{"scale":{"color":"independent"}},
"layer":[
{"data":{"name":"dens"},"transform":[{"filter":"datum.p==='e'"},{"calculate":"indexof(['Narrative','Expository','Mixed'],datum.g)+1","as":"gi"},{"calculate":"datum.gi+0.48+0.4*datum.d","as":"yt"},{"calculate":"datum.gi+0.48","as":"yb"}],
"mark":{"type":"area","interpolate":"monotone"},
"encoding":{"x":{"field":"x","type":"quantitative","scale":{"domain":[0.71,7.3],"nice":false,"zero":false},"axis":{"title":"Confidence Rating","values":[1,2,3,4,5,6,7],"format":"d","labelOverlap":false}},
"y":{"field":"yt","type":"quantitative","scale":{"domain":[-0.22,4.76],"nice":false,"zero":false},"axis":{"title":"Text Genre","titlePadding":12.7,"values":[1,2,3],"labelOverlap":false,"labelExpr":"datum.value===3?'Mixed':datum.value===2?'Expository':'Narrative'"}},
"y2":{"field":"yb"},"color":{"field":"g","type":"nominal","scale":{"domain":["Mixed","Expository","Narrative"],"range":["#5b9bd5","#bfbfbf","#f6a646"]},"legend":null}}},
{"data":{"name":"box"},"transform":[{"filter":"datum.p==='e'"},{"calculate":"indexof(['Narrative','Expository','Mixed'],datum.g)+1+0.375","as":"wy"}],
"mark":{"type":"rule","strokeWidth":1.2},
"encoding":{"x":{"field":"lo","type":"quantitative"},"x2":{"field":"hi"},"y":{"field":"wy","type":"quantitative"},"color":{"field":"g","type":"nominal","scale":{"domain":["Mixed","Expository","Narrative"],"range":["#a9cdf0","#d4d4d4","#f9cc94"]},"legend":null}}},
{"data":{"name":"box"},"transform":[{"filter":"datum.p==='e'"},{"calculate":"indexof(['Narrative','Expository','Mixed'],datum.g)+1+0.32","as":"b1"},{"calculate":"datum.b1+0.11","as":"b2"}],
"mark":{"type":"rect","cornerRadius":2},
"encoding":{"x":{"field":"q1","type":"quantitative"},"x2":{"field":"q3"},"y":{"field":"b1","type":"quantitative"},"y2":{"field":"b2"},"color":{"field":"g","type":"nominal","scale":{"domain":["Mixed","Expository","Narrative"],"range":["#64a2dc","#c4c4c4","#f6a74b"]},"legend":null}}},
{"data":{"name":"box"},"transform":[{"filter":"datum.p==='e'"},{"calculate":"indexof(['Narrative','Expository','Mixed'],datum.g)+1+0.32","as":"b1"},{"calculate":"datum.b1+0.11","as":"b2"}],
"mark":{"type":"rule","strokeWidth":1.2},
"encoding":{"x":{"field":"med","type":"quantitative"},"y":{"field":"b1","type":"quantitative"},"y2":{"field":"b2"},"color":{"field":"g","type":"nominal","scale":{"domain":["Mixed","Expository","Narrative"],"range":["#3f7fbf","#9a9a9a","#d98a30"]},"legend":null}}},
{"data":{"name":"rain"},"transform":[{"filter":"datum.p==='e'"},{"calculate":"indexof(['Narrative','Expository','Mixed'],datum.g)+1","as":"gi"}],
"mark":{"type":"tick","orient":"vertical","thickness":2,"opacity":0.75},
"encoding":{"x":{"field":"x","type":"quantitative"},"y":{"field":"gi","type":"quantitative"},"size":{"field":"n","type":"quantitative","scale":{"domain":[1,6],"range":[3,17]},"legend":null},"color":{"field":"g","type":"nominal","scale":{"domain":["Mixed","Expository","Narrative"],"range":["#4a8fd4","#a3a3a3","#eb9a3c"]},"legend":null}}}
]}
],
"config":{
"view":{"stroke":null},
"font":"Liberation Sans",
"axis":{"grid":false,"labelOverlap":false,"domainColor":"#333333","domainWidth":2,"tickColor":"#333333","tickWidth":1.5,"tickSize":7,"labelColor":"#4d4d4d","labelFont":"Liberation Sans","labelFontSize":21,"labelPadding":3,"titleFont":"Liberation Sans","titleFontSize":27,"titleFontWeight":"normal","titleColor":"#111111","titlePadding":10},
"axisX":{"labelPadding":5,"titlePadding":8,"titleFontSize":26.5},
"title":{"font":"Liberation Serif","fontSize":28,"fontWeight":"bold","color":"#000000","anchor":"start","frame":"bounds","offset":12}
}
}
